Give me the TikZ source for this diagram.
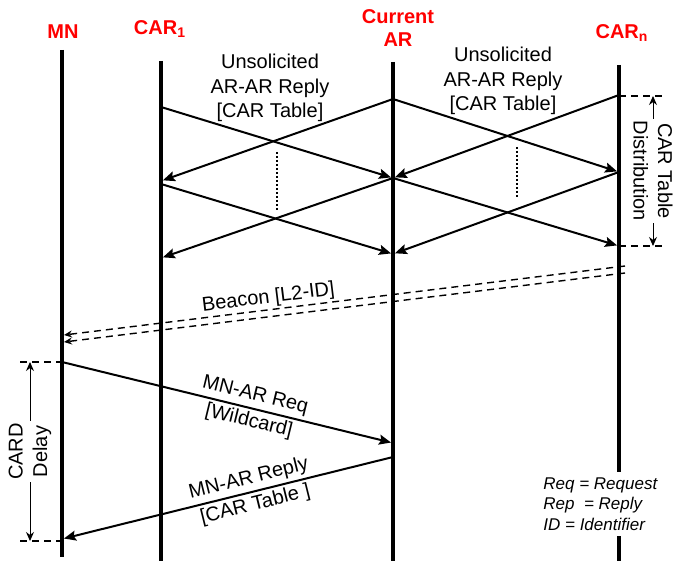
\documentclass[tikz,border=0pt]{standalone}
\usepackage{fontspec}
\setmainfont{Liberation Sans}
\usetikzlibrary{arrows.meta, positioning}
\definecolor{cred}{HTML}{FF0000}
\tikzset{
  every picture/.style={font=\fontsize{10}{12.25}\selectfont},
  head/.style={font=\bfseries\fontsize{10}{11.5}\selectfont, text=cred, align=center},
  life/.style={line width=2pt},
  msg/.style={-{Stealth[length=6pt, width=5pt, inset=1pt]}, line width=1pt, shorten >=1pt},
  beacon/.style={-{Stealth[length=4pt, width=3.5pt]}, line width=0.7pt, dash pattern=on 3.5pt off 2.5pt},
  guide/.style={line width=0.7pt, dash pattern=on 3.5pt off 2.5pt},
  dots/.style={line width=1pt, densely dotted},
  span/.style={{Stealth[length=4.5pt, width=4pt]}-{Stealth[length=4.5pt, width=4pt]}, line width=0.5pt},
  lbl/.style={align=center, inner sep=1pt},
  tilt/.style={lbl, sloped, font=\fontsize{10}{13.5}\selectfont},
  note/.style={font=\itshape\fontsize{8.5}{10.2}\selectfont, align=left, fill=white, inner xsep=2pt, inner ysep=3pt},
}
\begin{document}
\begin{tikzpicture}[x=0.5pt, y=-0.5pt]
  \useasboundingbox (0,0) rectangle (675,561);
  % entities
  \node[head] (mn) at (63,32) {MN};
  \node[head] (car1) at (160,29) {CAR\textsubscript{1}};
  \node[head] (ar) at (398,28) {Current\\AR};
  \node[head] (carn) at (622,33) {CAR\textsubscript{n}};
  \coordinate (mn-t) at (62,50); \coordinate (mn-b) at (62,557);
  \coordinate (c1-t) at (161,61); \coordinate (c1-b) at (161,561);
  \coordinate (ar-t) at (393,62); \coordinate (ar-b) at (393,561);
  \coordinate (cn-t) at (619,65); \coordinate (cn-b) at (619,561);
  \draw[life] (mn-t) -- (mn-b); \draw[life] (c1-t) -- (c1-b);
  \draw[life] (ar-t) -- (ar-b); \draw[life] (cn-t) -- (cn-b);
  % CAR table distribution
  \coordinate (c1a) at (161,107); \coordinate (c1b) at (161,181);
  \coordinate (c1c) at (161,184); \coordinate (c1d) at (161,258);
  \coordinate (ara) at (393,99); \coordinate (arb) at (393,178); \coordinate (arc) at (393,254);
  \coordinate (cna) at (619,95); \coordinate (cnb) at (619,172); \coordinate (cnc) at (619,246);
  \draw[msg] (c1a) -- (arb); \draw[msg] (ara) -- (c1b); \draw[msg] (ara) -- (cnb); \draw[msg] (cna) -- (arb);
  \draw[msg] (c1c) -- (arc); \draw[msg] (arb) -- (c1d); \draw[msg] (arb) -- (cnc); \draw[msg] (cnb) -- (arc);
  \coordinate (d1t) at (277,152); \coordinate (d1b) at (277,210);
  \coordinate (d2t) at (517,147); \coordinate (d2b) at (517,197);
  \draw[dots] (d1t) -- (d1b); \draw[dots] (d2t) -- (d2b);
  \node[lbl] (u1) at (270,88) {Unsolicited\\AR-AR Reply\\{[}CAR Table{]}};
  \node[lbl] (u2) at (503,81) {Unsolicited\\AR-AR Reply\\{[}CAR Table{]}};
  \coordinate (gt1) at (619,96); \coordinate (gt2) at (662,96);
  \coordinate (gb1) at (619,246); \coordinate (gb2) at (662,246);
  \draw[guide] (gt1) -- (gt2); \draw[guide] (gb1) -- (gb2);
  \coordinate (st) at (653,96); \coordinate (sb) at (653,246);
  \draw[span] (st) -- node[lbl, fill=white, rotate=-90] (dist) {CAR Table\\Distribution} (sb);
  % beacon
  \coordinate (bn1) at (625,266); \coordinate (bm1) at (64,335);
  \coordinate (bn2) at (625,273); \coordinate (bm2) at (64,342);
  \draw[beacon] (bn1) -- node[lbl, sloped, above, pos=0.633] (bcn) {Beacon {[}L2-ID{]}} (bm1);
  \draw[beacon] (bn2) -- (bm2);
  % CARD exchange
  \coordinate (mnq) at (62,362); \coordinate (arq) at (393,443);
  \coordinate (arp) at (393,457); \coordinate (mnp) at (62,539);
  \draw[msg] (mnq) -- node[tilt, pos=0.574] (req) {MN-AR Req\\{[}Wildcard{]}} (arq);
  \draw[msg] (arp) -- node[tilt, pos=0.426] (rep) {MN-AR Reply\\{[}CAR Table {]}} (mnp);
  \coordinate (ct1) at (20,362); \coordinate (ct2) at (62,362);
  \coordinate (cb1) at (20,541); \coordinate (cb2) at (62,541);
  \draw[guide] (ct1) -- (ct2); \draw[guide] (cb1) -- (cb2);
  \coordinate (dt) at (30,362); \coordinate (db) at (30,541);
  \draw[span] (dt) -- node[lbl, fill=white, rotate=90] (card) {CARD\\Delay} (db);
  \node[note, anchor=west] (key) at (539,504) {Req = Request\\Rep\ \ = Reply\\ID = Identifier};
\end{tikzpicture}
\end{document}
